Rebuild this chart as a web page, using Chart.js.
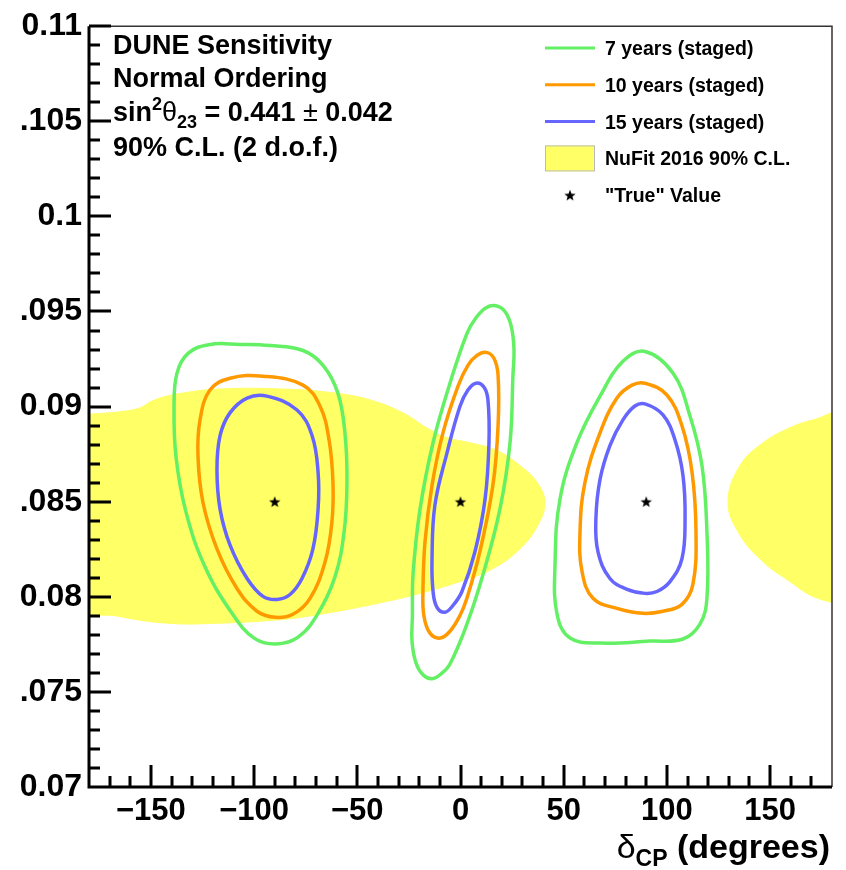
<!DOCTYPE html>
<html>
<head>
<meta charset="utf-8">
<script src="https://cdn.jsdelivr.net/npm/chart.js@4.4.0/dist/chart.umd.min.js"></script>
<style>
  html, body { margin: 0; padding: 0; background: #fff; }
  #wrap { position: absolute; left: 20px; top: 0; width: 826px; height: 870px; }
</style>
</head>
<body>
<div id="wrap"><canvas id="dune" width="826" height="870"></canvas></div>
<script>
// axis tick labels
const xTicks = [-150, -100, -50, 0, 50, 100, 150];
const yTicks = [0.07, 0.075, 0.08, 0.085, 0.09, 0.095, 0.1, 0.105, 0.11];

// "True" values (deltaCP, sin^2 2theta13)
const trueDelta = [-90, 0, 90];
const trueS13 = [0.085, 0.085, 0.085];

// 90% C.L. contours: [deltaCP, sin^2 2theta13]
const yr7Left = [[-55.0,0.08602],[-56.4,0.08341],[-60.8,0.08106],[-69.0,0.07913],[-78.7,0.07788],[-89.4,0.07752],[-100.0,0.07783],[-110.7,0.07913],[-123.8,0.08158],[-133.0,0.08445],[-137.8,0.08732],[-138.8,0.08993],[-137.4,0.09175],[-132.0,0.09280],[-121.4,0.09327],[-106.8,0.09327],[-92.3,0.09321],[-76.3,0.09295],[-66.6,0.09217],[-59.4,0.09071],[-56.0,0.08862]];
const yr7Mid = [[24.0,0.08810],[19.1,0.08461],[10.9,0.08117],[3.1,0.07856],[-5.1,0.07647],[-9.4,0.07595],[-13.8,0.07569],[-18.2,0.07590],[-21.6,0.07653],[-23.5,0.07767],[-23.3,0.07900],[-23.0,0.08117],[-19.6,0.08461],[-13.3,0.08810],[-5.1,0.09123],[3.1,0.09384],[7.5,0.09467],[12.4,0.09520],[17.2,0.09530],[21.6,0.09499],[24.5,0.09426],[25.9,0.09306],[25.4,0.09160]];
const yr7Right = [[119.4,0.08341],[119.4,0.07992],[116.0,0.07856],[107.8,0.07778],[91.8,0.07767],[67.6,0.07757],[53.1,0.07783],[46.8,0.07908],[45.8,0.08169],[48.2,0.08513],[56.4,0.08810],[67.6,0.09055],[78.7,0.09238],[89.4,0.09290],[103.0,0.09175],[111.2,0.08951],[117.0,0.08690]];

const yr10Left = [[-61.8,0.08602],[-62.3,0.08393],[-65.6,0.08184],[-72.9,0.07992],[-81.2,0.07908],[-89.9,0.07892],[-98.6,0.07924],[-108.3,0.08044],[-118.0,0.08252],[-124.8,0.08497],[-127.2,0.08742],[-126.2,0.08930],[-121.4,0.09087],[-111.7,0.09149],[-95.7,0.09160],[-76.3,0.09113],[-68.1,0.09003],[-63.7,0.08826]];
const yr10Mid = [[15.7,0.08586],[9.4,0.08237],[3.1,0.07992],[-0.2,0.07903],[-5.1,0.07819],[-9.9,0.07783],[-14.8,0.07809],[-17.7,0.07898],[-18.2,0.08028],[-17.2,0.08289],[-13.8,0.08586],[-8.5,0.08862],[-1.2,0.09108],[3.6,0.09217],[8.0,0.09269],[12.4,0.09285],[16.2,0.09254],[18.2,0.09165],[18.2,0.08899]];
const yr10Right = [[114.1,0.08341],[112.6,0.08065],[107.3,0.07960],[98.1,0.07924],[88.4,0.07913],[75.8,0.07939],[64.2,0.07992],[58.9,0.08132],[57.9,0.08341],[60.3,0.08602],[67.6,0.08862],[75.8,0.09045],[83.1,0.09113],[89.4,0.09123],[100.0,0.09061],[107.3,0.08899],[112.2,0.08654]];

const yr15Left = [[-69.0,0.08654],[-69.0,0.08461],[-71.5,0.08252],[-76.8,0.08096],[-82.6,0.08012],[-88.9,0.07986],[-95.7,0.08002],[-103.4,0.08096],[-111.7,0.08273],[-116.5,0.08461],[-118.0,0.08669],[-116.5,0.08847],[-111.7,0.08967],[-103.4,0.09045],[-93.8,0.09055],[-79.2,0.08982],[-71.9,0.08847]];
const yr15Mid = [[11.9,0.08513],[7.0,0.08237],[0.7,0.08028],[-3.6,0.07955],[-7.5,0.07919],[-11.4,0.07945],[-13.3,0.08028],[-13.8,0.08200],[-12.4,0.08482],[-6.5,0.08758],[-0.2,0.09003],[3.6,0.09087],[7.5,0.09123],[11.4,0.09102],[13.3,0.09035],[13.8,0.08810]];
const yr15Right = [[108.8,0.08409],[107.3,0.08200],[101.5,0.08080],[95.2,0.08028],[89.4,0.08018],[80.7,0.08039],[72.4,0.08096],[66.6,0.08237],[65.6,0.08409],[67.6,0.08617],[72.4,0.08795],[78.7,0.08930],[84.5,0.09003],[89.4,0.09014],[98.1,0.08956],[103.9,0.08826],[107.8,0.08638]];

// NuFit 2016 90% C.L. region (wraps around at +-180)
const nufitLeft = [[-186,0.08956],[-165.9,0.08972],[-155.3,0.08993],[-149.5,0.09029],[-139.8,0.09061],[-117.5,0.09092],[-85.0,0.09092],[-60.8,0.09071],[-43.8,0.09035],[-27.9,0.08967],[-14.8,0.08878],[-6.5,0.08836],[4.6,0.08810],[17.7,0.08769],[28.8,0.08690],[37.1,0.08602],[40.9,0.08497],[37.5,0.08377],[28.8,0.08252],[15.7,0.08148],[-0.2,0.08080],[-19.6,0.08018],[-35.6,0.07976],[-52.1,0.07939],[-68.1,0.07908],[-85.0,0.07882],[-117.5,0.07861],[-141.7,0.07861],[-165.9,0.07898],[-186,0.07955]];
const nufitRight = [[186,0.07955],[170.8,0.08002],[159.6,0.08080],[146.6,0.08184],[135.4,0.08325],[129.6,0.08497],[135.4,0.08690],[146.6,0.08810],[159.6,0.08889],[170.8,0.08930],[186,0.08956]];

const GREEN = '#64f064';
const ORANGE = '#ff9900';
const BLUE = '#6666ff';
const YELLOW = '#ffff66';
const FONT = '"Liberation Sans", Arial, sans-serif';

const toXY = a => a.map(p => ({ x: p[0], y: p[1] }));

// closed contour: wrap one point on each side so the spline is smooth at the seam,
// then hide the two helper segments
function contour(pts, color, order) {
  const data = toXY([pts[pts.length - 1]].concat(pts, [pts[0], pts[1]]));
  const last = data.length - 1;
  return { data: data, showLine: true, borderColor: color, borderWidth: 3.5,
    pointRadius: 0, tension: 0.4, fill: false, order: order,
    segment: { borderColor: c => (c.p0DataIndex === 0 || c.p1DataIndex === last) ? 'rgba(0,0,0,0)' : undefined } };
}
function region(pts) {
  return { data: toXY(pts.concat([pts[0]])), showLine: true, borderColor: YELLOW, borderWidth: 1,
    backgroundColor: YELLOW, fill: 'shape', pointRadius: 0, tension: 0.4, order: 10 };
}

function starImage(r) {
  const c = document.createElement('canvas');
  const s = Math.ceil(r * 2 + 2);
  c.width = s; c.height = s;
  const g = c.getContext('2d');
  g.translate(s / 2, s / 2 + 0.5);
  g.beginPath();
  for (let i = 0; i < 10; i++) {
    const rr = i % 2 ? r * 0.42 : r;
    const a = -Math.PI / 2 + i * Math.PI / 5;
    g.lineTo(rr * Math.cos(a), rr * Math.sin(a));
  }
  g.closePath();
  g.fillStyle = '#000';
  g.fill();
  return c;
}
const STAR = starImage(6);

function rich(ctx, parts, x, y, align) {
  let w = 0;
  parts.forEach(p => { ctx.font = `${p[3] || 'bold'} ${p[1]}px ${FONT}`; w += ctx.measureText(p[0]).width; });
  let cx = align === 'right' ? x - w : x;
  ctx.textAlign = 'left';
  parts.forEach(p => {
    ctx.font = `${p[3] || 'bold'} ${p[1]}px ${FONT}`;
    ctx.fillText(p[0], cx, y + (p[2] || 0));
    cx += ctx.measureText(p[0]).width;
  });
}

// axis frame, inward ticks, texts and legend
const decor = {
  id: 'decor',
  afterDraw(chart) {
    const { ctx, chartArea: a, scales: { x, y } } = chart;
    ctx.save();
    ctx.lineCap = 'butt';
    ctx.strokeStyle = '#333';
    ctx.lineWidth = 1.5;
    ctx.beginPath();
    ctx.moveTo(a.left, a.top); ctx.lineTo(a.right, a.top); ctx.lineTo(a.right, a.bottom);
    ctx.stroke();

    ctx.strokeStyle = '#000';
    ctx.lineWidth = 3;
    ctx.beginPath();
    for (let v = -170; v <= 170; v += 10) {
      const px = Math.round(x.getPixelForValue(v));
      const len = v % 50 === 0 ? 22 : 11;
      ctx.moveTo(px, a.bottom); ctx.lineTo(px, a.bottom - len);
    }
    for (let k = 1; k <= 40; k++) {
      const py = Math.round(y.getPixelForValue(0.07 + k * 0.001));
      const len = k % 5 === 0 ? 22 : 11;
      ctx.moveTo(a.left, py); ctx.lineTo(a.left + len, py);
    }
    ctx.stroke();
    ctx.beginPath();
    ctx.moveTo(a.left, a.top); ctx.lineTo(a.left, a.bottom + 1.5);
    ctx.moveTo(a.left - 1.5, a.bottom); ctx.lineTo(a.right, a.bottom);
    ctx.stroke();

    ctx.fillStyle = '#000';
    ctx.textBaseline = 'alphabetic';
    // x title
    rich(ctx, [['δ', 34, 0, 'normal'], ['CP', 23, 8], [' (degrees)', 34]], 810, 858, 'right');

    // top-left annotation
    const tx = 93;
    rich(ctx, [['DUNE Sensitivity', 27]], tx, 54);
    rich(ctx, [['Normal Ordering', 27]], tx, 87);
    rich(ctx, [['sin', 27], ['2', 18, -11], ['θ', 27, 0, 'normal'], ['23', 18, 7], [' = 0.441 ', 27], ['±', 27, 0, 'normal'], [' 0.042', 27]], tx, 121);
    rich(ctx, [['90% C.L. (2 d.o.f.)', 27]], tx, 156);

    // legend
    const lx0 = 525, lx1 = 575, ltx = 585;
    const rows = [
      ['7 years (staged)', 'line', GREEN],
      ['10 years (staged)', 'line', ORANGE],
      ['15 years (staged)', 'line', BLUE],
      ['NuFit 2016 90% C.L.', 'box', YELLOW],
      ['"True" Value', 'star']
    ];
    rows.forEach((r, i) => {
      const cy = 48 + i * 36.8;
      if (r[1] === 'line') {
        ctx.strokeStyle = r[2]; ctx.lineWidth = 3;
        ctx.beginPath(); ctx.moveTo(lx0, cy); ctx.lineTo(lx1, cy); ctx.stroke();
      } else if (r[1] === 'box') {
        ctx.fillStyle = r[2]; ctx.fillRect(lx0, cy - 13, 50, 26);
        ctx.strokeStyle = '#bbb'; ctx.lineWidth = 1; ctx.strokeRect(lx0 + 0.5, cy - 12.5, 49, 25);
      } else {
        ctx.drawImage(STAR, (lx0 + lx1) / 2 - STAR.width / 2, cy - STAR.height / 2);
      }
      ctx.fillStyle = '#000';
      rich(ctx, [[r[0], 19.5]], ltx, cy + 7);
    });
    ctx.restore();
  }
};

new Chart(document.getElementById('dune'), {
  type: 'scatter',
  data: {
    datasets: [
      { data: trueDelta.map((d, i) => ({ x: d, y: trueS13[i] })), pointStyle: STAR, pointRadius: 6, order: 0 },
      contour(yr15Left, BLUE, 1), contour(yr15Mid, BLUE, 1), contour(yr15Right, BLUE, 1),
      contour(yr10Left, ORANGE, 2), contour(yr10Mid, ORANGE, 2), contour(yr10Right, ORANGE, 2),
      contour(yr7Left, GREEN, 3), contour(yr7Mid, GREEN, 3), contour(yr7Right, GREEN, 3),
      region(nufitLeft), region(nufitRight)
    ]
  },
  options: {
    responsive: false,
    animation: false,
    layout: { padding: { top: 20, right: 14, left: 0, bottom: 0 } },
    plugins: { legend: { display: false }, tooltip: { enabled: false } },
    scales: {
      x: {
        type: 'linear', min: -180, max: 180,
        afterBuildTicks: s => { s.ticks = xTicks.map(v => ({ value: v })); },
        afterFit: s => { s.height = 83; },
        grid: { display: false, drawTicks: false },
        border: { display: false },
        ticks: {
          color: '#000', padding: 6, maxRotation: 0, autoSkip: false,
          font: { family: FONT, size: 31, weight: 'bold' },
          callback: v => String(v).replace('-', '\u2212')
        }
      },
      y: {
        type: 'linear', min: 0.07, max: 0.11,
        afterBuildTicks: s => { s.ticks = yTicks.map(v => ({ value: v })); },
        afterFit: s => { s.width = 69; },
        grid: { display: false, drawTicks: false },
        border: { display: false },
        ticks: {
          color: '#000', padding: 7, autoSkip: false,
          font: { family: FONT, size: 32, weight: 'bold' },
          callback: v => String(+v.toFixed(3))
        }
      }
    }
  },
  plugins: [decor]
});
</script>
</body>
</html>
